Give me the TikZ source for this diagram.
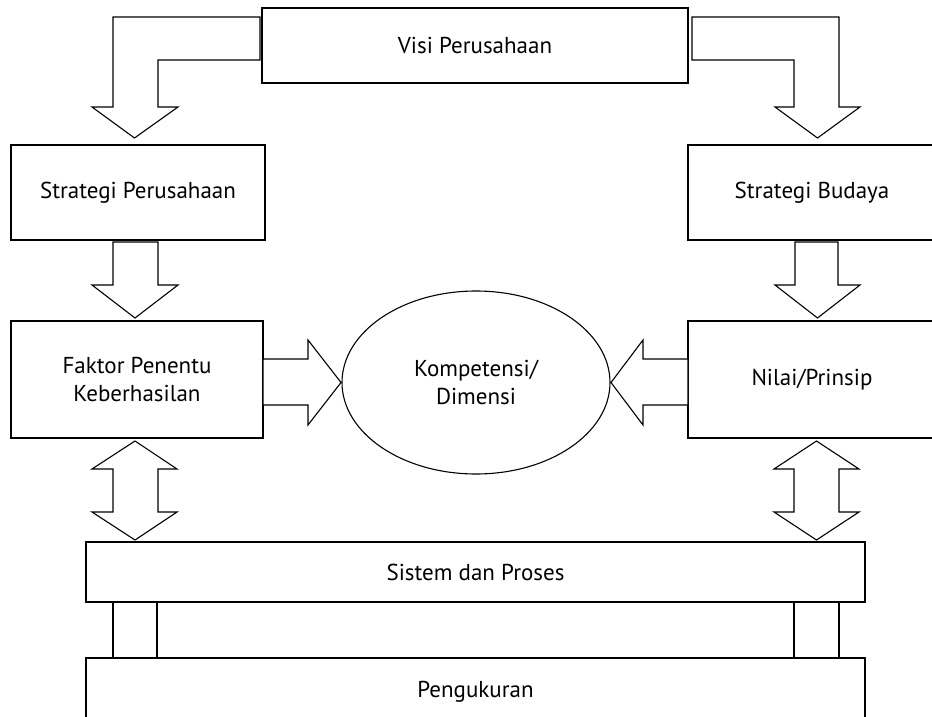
\documentclass[tikz,border=0pt]{standalone}
\usepackage{fontspec}
\setmainfont{PT Sans}
\usetikzlibrary{shapes.geometric}
\begin{document}
\begin{tikzpicture}[x=1pt,y=-1pt,
  line width=1.1pt,
  box/.style={draw, fill=white, inner sep=0pt, align=center,
    font=\fontsize{23}{28}\selectfont},
  blockarrow/.style={draw, fill=white, line join=miter}]
\useasboundingbox (0,0) rectangle (932,717);

% boxes
\node[box, minimum width=426pt, minimum height=75pt] (visi) at (475,45.5) {Visi Perusahaan};
\node[box, minimum width=254pt, minimum height=95pt] (sp) at (138,192.5) {Strategi Perusahaan};
\node[box, minimum width=248pt, minimum height=95pt] (sb) at (812,192.5) {Strategi Budaya};
\node[box, minimum width=252pt, minimum height=117pt] (fk) at (137,379.5) {Faktor Penentu\\Keberhasilan};
\node[box, minimum width=248pt, minimum height=117pt] (np) at (812,379.5) {Nilai/Prinsip};
\node[box, ellipse, minimum width=268pt, minimum height=183pt] (komp) at (476,382.5) {Kompetensi/\\Dimensi};
\node[box, minimum width=779pt, minimum height=60pt] (ss) at (475.5,572) {Sistem dan Proses};
\node[box, minimum width=779pt, minimum height=67pt] (pg) at (475.5,691.5) {Pengukuran};
\node[box, minimum width=44pt, minimum height=56pt] (lk) at (135,630) {};
\node[box, minimum width=45pt, minimum height=56pt] (rk) at (816.5,630) {};

% bent arrows from the vision to both strategies
\draw[blockarrow] (260,17) -- (113,17) -- (113,107) -- (92,107) -- (134.5,138)
  -- (178,107) -- (158,107) -- (158,60) -- (260,60) -- cycle;
\draw[blockarrow] (692,17) -- (839,17) -- (839,107) -- (860,107) -- (817.5,138)
  -- (775,107) -- (794,107) -- (794,60) -- (692,60) -- cycle;

% strategies down to factors and values
\draw[blockarrow] (113,242) -- (158,242) -- (158,285) -- (178,285) -- (135,318)
  -- (92,285) -- (113,285) -- cycle;
\draw[blockarrow] (795,242) -- (838,242) -- (838,285) -- (860,285) -- (817.5,318)
  -- (775,285) -- (795,285) -- cycle;

% both sides into the competencies
\draw[blockarrow] (263,359) -- (308,359) -- (308,340) -- (341,382.5) -- (308,425)
  -- (308,405) -- (263,405) -- cycle;
\draw[blockarrow] (688,359) -- (643,359) -- (643,340) -- (611,382.5) -- (643,425)
  -- (643,405) -- (688,405) -- cycle;

% two-way arrows to systems and processes
\draw[blockarrow] (135,441) -- (177,469) -- (158,469) -- (158,512) -- (177,512)
  -- (135,540) -- (92,512) -- (113,512) -- (113,469) -- (92,469) -- cycle;
\draw[blockarrow] (816.5,441) -- (859,469) -- (839,469) -- (839,512) -- (859,512)
  -- (816.5,540) -- (774,512) -- (794,512) -- (794,469) -- (774,469) -- cycle;
\end{tikzpicture}
\end{document}
